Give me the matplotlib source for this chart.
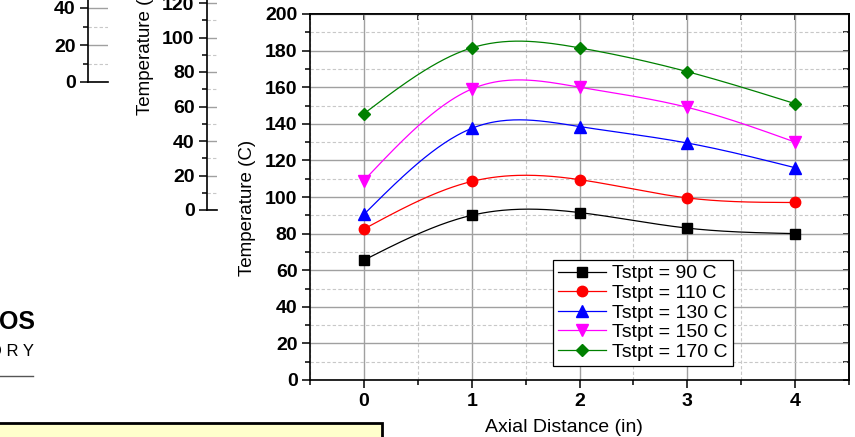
import numpy as np
import matplotlib
matplotlib.use("Agg")
import matplotlib.pyplot as plt
from matplotlib.patches import Rectangle
from matplotlib.ticker import MultipleLocator

plt.rcParams['font.family'] = ['Liberation Sans', 'DejaVu Sans']

# data
axial = [0, 1, 2, 3, 4]
t90 = [65.5, 90, 91.5, 83, 80]
t110 = [82.5, 108.5, 109.5, 99.5, 97]
t130 = [90.5, 137.5, 138.5, 129.5, 116]
t150 = [109, 159, 160, 149, 130]
t170 = [145.5, 181.5, 181.5, 168.5, 151]
labels = ['Tstpt = 90 C', 'Tstpt = 110 C', 'Tstpt = 130 C', 'Tstpt = 150 C', 'Tstpt = 170 C']
xticks = [0, 1, 2, 3, 4]

W, H = 855, 437


def spline(x, y, n=200):
    # natural cubic spline through the points (like Origin's "Spline" connect)
    x = np.asarray(x, float)
    y = np.asarray(y, float)
    k = len(x)
    h = np.diff(x)
    A = np.zeros((k, k))
    b = np.zeros(k)
    A[0, 0] = A[-1, -1] = 1
    for i in range(1, k - 1):
        A[i, i - 1] = h[i - 1]
        A[i, i] = 2 * (h[i - 1] + h[i])
        A[i, i + 1] = h[i]
        b[i] = 3 * ((y[i + 1] - y[i]) / h[i] - (y[i] - y[i - 1]) / h[i - 1])
    c = np.linalg.solve(A, b)
    xs = np.linspace(x[0], x[-1], n)
    ys = np.empty_like(xs)
    for j, xv in enumerate(xs):
        i = min(np.searchsorted(x, xv, side='right') - 1, k - 2)
        d = xv - x[i]
        bb = (y[i + 1] - y[i]) / h[i] - h[i] * (2 * c[i] + c[i + 1]) / 3
        dd = (c[i + 1] - c[i]) / (3 * h[i])
        ys[j] = y[i] + bb * d + c[i] * d ** 2 + dd * d ** 3
    return xs, ys


def fig_rect(x0, y0, x1, y1):
    # pixel box (top-left origin) -> figure fraction [l, b, w, h]
    return [x0 / W, 1 - y1 / H, (x1 - x0) / W, (y1 - y0) / H]


fig = plt.figure(figsize=(8.55, 4.37), dpi=100)

# ---- main chart
ax = fig.add_axes(fig_rect(310, 14, 849, 380))
series = [t90, t110, t130, t150, t170]
colors = ['black', '#ff0000', '#0000ff', '#ff00ff', '#008000']
markers = ['s', 'o', '^', 'v', 'D']
msizes = [6.5, 7.5, 8, 8, 6.5]
handles = []
for ys, col, mk, ms, lab in zip(series, colors, markers, msizes, labels):
    sx, sy = spline(axial, ys)
    ax.plot(sx, sy, color=col, lw=0.9, zorder=3)
    ax.plot(axial, ys, ls='none', marker=mk, ms=ms, color=col, zorder=4)
    h, = ax.plot([], [], color=col, lw=0.9, marker=mk, ms=ms, label=lab)
    handles.append(h)

ax.set_xlim(-0.5, 4.5)
ax.set_ylim(0, 200)
ax.set_xticks(xticks)
ax.xaxis.set_minor_locator(MultipleLocator(0.5))
ax.yaxis.set_major_locator(MultipleLocator(20))
ax.yaxis.set_minor_locator(MultipleLocator(10))
ax.set_axisbelow(True)
ax.grid(which='major', color='#a0a0a0', lw=1.0, ls='-')
ax.grid(which='minor', color='#c8c8c8', lw=0.8, ls=(0, (3, 2)))
for s in ax.spines.values():
    s.set_linewidth(1.2)
ax.tick_params(which='major', direction='out', length=6, width=1.1, labelsize=14, pad=3)
ax.tick_params(which='minor', direction='out', length=3.5, width=1.1)
for t in ax.get_xticklabels() + ax.get_yticklabels():
    t.set_fontweight('bold')

sec_y = ax.secondary_yaxis('right')
sec_y.yaxis.set_major_locator(MultipleLocator(10))
sec_y.tick_params(direction='in', length=4, width=1.1, labelright=False)
sec_y.spines['right'].set_linewidth(1.2)
sec_x = ax.secondary_xaxis('top')
sec_x.xaxis.set_major_locator(MultipleLocator(0.5))
sec_x.tick_params(direction='in', length=4, width=1.1, labeltop=False)
sec_x.spines['top'].set_linewidth(1.2)

fig.text(0.5 * (485 + 642) / W, 1 - 427 / H, 'Axial Distance (in)', fontsize=14,
         ha='center', va='center')
fig.text(247 / W, 1 - 208 / H, 'Temperature (C)', fontsize=13.5, rotation=90,
         ha='center', va='center')

leg = ax.legend(handles=handles, loc='upper left', bbox_to_anchor=(553 / W, 1 - 260 / H),
                bbox_transform=fig.transFigure, borderaxespad=0, fontsize=14,
                labelspacing=0.1, handlelength=2.5, handletextpad=0.3,
                borderpad=0.25, fancybox=False, framealpha=1, edgecolor='black')
leg.get_frame().set_linewidth(0.9)

# ---- cropped fragments of neighbouring charts on the slide
frag1 = fig.add_axes(fig_rect(88, 82 - 50 * 1.85, 108, 82))
frag1.set_ylim(0, 50)
frag1.set_xlim(0, 1)
frag2 = fig.add_axes(fig_rect(207, 210 - 130 * 1.725, 217, 210))
frag2.set_ylim(0, 130)
frag2.set_xlim(0, 1)
for fa in (frag1, frag2):
    fa.set_xticks([])
    fa.yaxis.set_major_locator(MultipleLocator(20))
    fa.yaxis.set_minor_locator(MultipleLocator(10))
    fa.set_axisbelow(True)
    fa.grid(which='major', axis='y', color='#a0a0a0', lw=1.0)
    fa.grid(which='minor', axis='y', color='#c8c8c8', lw=0.8, ls=(0, (3, 2)))
    fa.spines['top'].set_visible(False)
    fa.spines['right'].set_visible(False)
    fa.spines['left'].set_linewidth(1.2)
    fa.spines['bottom'].set_linewidth(1.2)
    fa.tick_params(which='major', direction='out', length=6, width=1.1, labelsize=14, pad=3)
    fa.tick_params(which='minor', direction='out', length=3.5, width=1.1)
    for t in fa.get_yticklabels():
        t.set_fontweight('bold')
frag1.set_yticks([0, 20, 40])
frag2.set_yticks([0, 20, 40, 60, 80, 100, 120])

fig.text(145 / W, 1 - 115 / H, 'Temperature (C)', fontsize=13.5, rotation=90,
         ha='center', va='bottom')

fig.text(35 / W, 1 - 322 / H, 'OS', fontsize=18, fontweight='bold', ha='right', va='center')
fig.text(34 / W, 1 - 352 / H, 'O R Y', fontsize=12, ha='right', va='center')
fig.add_artist(plt.Line2D([0, 33 / W], [1 - 376 / H] * 2, color='#555555', lw=1.0,
                          transform=fig.transFigure))
fig.add_artist(Rectangle((-5 / W, 1 - 450 / H), 387 / W, 27 / H, transform=fig.transFigure,
                         facecolor='#ffffcc', edgecolor='black', lw=2, clip_on=False))

fig.savefig('out.png', dpi=100)
